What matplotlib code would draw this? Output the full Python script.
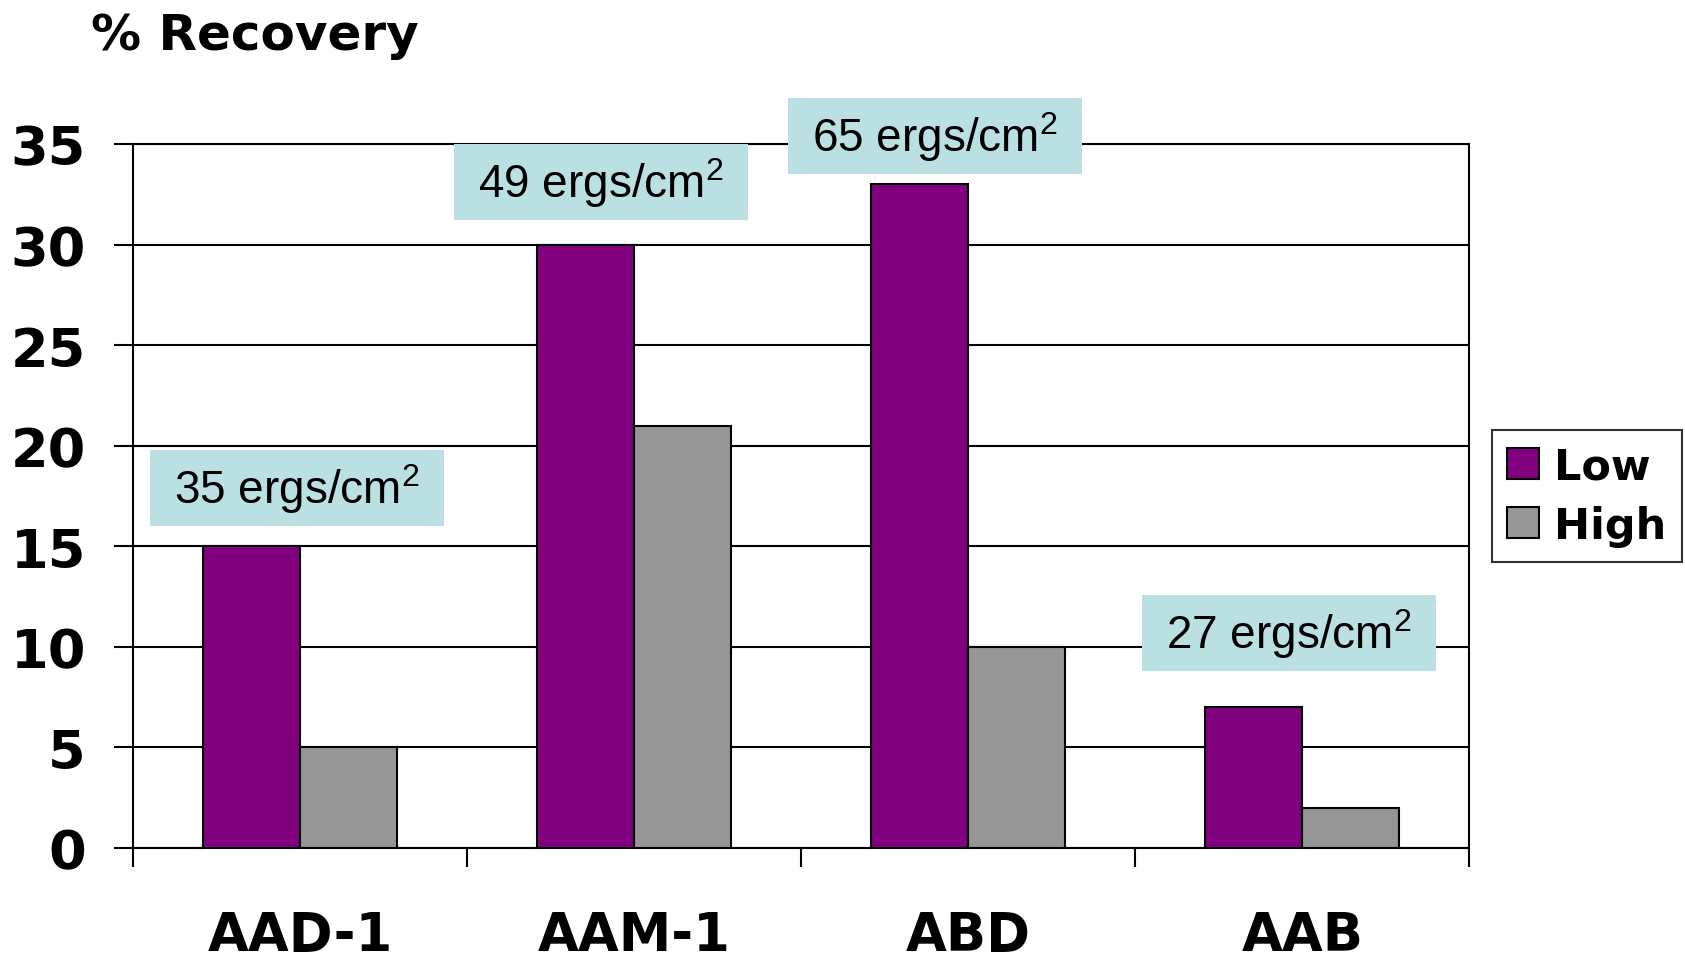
import numpy as np
import matplotlib.pyplot as plt
from matplotlib.patches import Rectangle
from matplotlib.ticker import FixedLocator, NullFormatter

plt.rcParams['mathtext.fontset'] = 'custom'
plt.rcParams['mathtext.rm'] = 'Liberation Sans'

groups = ['AAD-1', 'AAM-1', 'ABD', 'AAB']
low = [15, 30, 33, 7]
high = [5, 21, 10, 2]
doses = [35, 49, 65, 27]
# where each dose label sits (x in group units, y in % recovery)
dose_x = [-0.01, 0.90, 1.90, 2.96]
dose_y = [17.9, 33.1, 35.4, 10.7]

purple = '#800080'
grey = '#969696'
cyan = '#bae0e3'

fig = plt.figure(figsize=(16.85, 9.62), dpi=100)
ax = fig.add_axes([0.079, 0.1175, 0.793, 0.7315])

x = np.arange(len(groups))
w = 0.29
ax.bar(x - w / 2, low, w, color=purple, edgecolor='black', linewidth=1.5, label='Low', zorder=3)
ax.bar(x + w / 2, high, w, color=grey, edgecolor='black', linewidth=1.5, label='High', zorder=3)

ax.set_xlim(-0.5, 3.5)
ax.set_ylim(0, 35)
ax.set_yticks(np.arange(0, 36, 5))
ax.yaxis.grid(True, color='black', linewidth=1.5, zorder=0)

# category labels at centres, tick marks on the group boundaries
ax.xaxis.set_major_locator(FixedLocator(np.arange(-0.5, 3.6, 1)))
ax.xaxis.set_major_formatter(NullFormatter())
ax.xaxis.set_minor_locator(FixedLocator(x))
ax.set_xticklabels(groups, minor=True)
ax.tick_params(axis='x', which='major', length=14, width=1.5, direction='out')
ax.tick_params(axis='x', which='minor', length=0, pad=44)
ax.tick_params(axis='y', length=14, width=1.5, pad=20)

bold = dict(family='DejaVu Sans', weight='bold')
for lab in ax.get_xticklabels(minor=True):
    lab.set_fontsize(38)
    lab.set_fontweight('bold')
for lab in ax.get_yticklabels():
    lab.set_fontsize(39)
    lab.set_fontweight('bold')

for s in ax.spines.values():
    s.set_linewidth(1.5)

# dose boxes
bw, bh = 0.88, 3.78
for dx, dy, d in zip(dose_x, dose_y, doses):
    ax.add_patch(Rectangle((dx - bw / 2, dy - bh / 2), bw, bh, facecolor=cyan,
                           edgecolor='none', zorder=4, clip_on=False))
    ax.text(dx, dy, f'{d} ergs/cm$^{{\\mathrm{{2}}}}$', ha='center', va='center',
            fontsize=33, family='Liberation Sans', zorder=5)

fig.text(91 / 1685, 1 - 50 / 962, '% Recovery', fontsize=36, ha='left',
         va='baseline', **bold)

leg = ax.legend(loc='center left', bbox_to_anchor=(1.017, 0.5), frameon=True,
                fancybox=False, edgecolor='black', prop=dict(size=31, weight='bold'),
                handlelength=0.75, handleheight=0.75, handletextpad=0.35,
                borderpad=0.35, labelspacing=0.4, borderaxespad=0)
leg.get_frame().set_linewidth(1.5)

fig.savefig('out.png', dpi=100)
